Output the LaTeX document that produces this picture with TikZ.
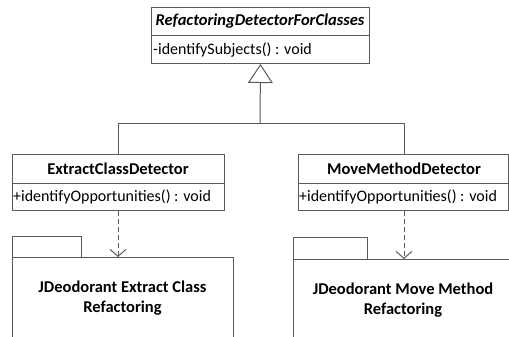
\documentclass[tikz,border=0pt]{standalone}
\usepackage{fontspec}
\setmainfont{Carlito}
\usetikzlibrary{arrows.meta}
\definecolor{ln}{HTML}{5A5A5A}
\begin{document}
\begin{tikzpicture}[x=1pt,y=-1pt,
  every node/.style={font=\fontsize{16}{18}\selectfont, inner sep=0pt},
  box/.style={draw=ln, line width=1pt, fill=white, anchor=north west},
  lin/.style={draw=ln, line width=1pt},
  title/.style={font=\fontsize{16.5}{18}\selectfont\bfseries},
  meth/.style={anchor=west},
  pkgtext/.style={font=\fontsize{16.5}{20}\selectfont\bfseries, align=center},
  dep/.style={lin, dashed, dash pattern=on 5pt off 3pt, -{Straight Barb[length=7pt,width=16pt]}},
  gen/.style={lin, -{Triangle[open, length=19pt, width=25pt, fill=white]}}
]
\useasboundingbox (0,0) rectangle (509,337);
\clip (0,0) rectangle (509,337);
% top class
\node[box, minimum width=218pt, minimum height=56pt] (top) at (151,7) {};
\draw[lin] (151,36) -- (369,36);
\node[font=\fontsize{16.5}{18}\selectfont\bfseries\itshape] (toptitle) at (260,21.5) {RefactoringDetectorForClasses};
\node[meth] (topm) at (153,50) {-identifySubjects() : void};
% left class
\node[box, minimum width=212pt, minimum height=56pt] (ecd) at (12,154) {};
\draw[lin] (12,183) -- (224,183);
\node[title] (ecdt) at (118,168.5) {ExtractClassDetector};
\node[meth] (ecdm) at (13,197) {+identifyOpportunities() : void};
% right class
\node[box, minimum width=210pt, minimum height=56pt] (mmd) at (298,154) {};
\draw[lin] (298,183) -- (508,183);
\node[title] (mmdt) at (404,168.5) {MoveMethodDetector};
\node[meth] (mmdm) at (299,197) {+identifyOpportunities() : void};
% packages
\node[box, minimum width=69pt, minimum height=21pt] (ptabl) at (12,236) {};
\node[box, minimum width=221pt, minimum height=100pt] (pkgl) at (12,257) {};
\node[pkgtext] (pkglt) at (122.5,298) {JDeodorant Extract Class\\Refactoring};
\node[box, minimum width=74pt, minimum height=22pt] (ptabr) at (293,237) {};
\node[box, minimum width=230pt, minimum height=100pt] (pkgr) at (293,259) {};
\node[pkgtext] (pkgrt) at (403,300) {JDeodorant Move Method\\Refactoring};
% generalization
\coordinate (j) at (260,123);
\draw[lin] (ecd.north -| 118,0) -- (118,123) -- (404,123) -- (404,154);
\draw[gen] (j) -- (top.south);
% dependencies
\draw[dep] (ecd.south -| 118,0) -- (pkgl.north -| 118,0);
\draw[dep] (mmd.south -| 404,0) -- (pkgr.north -| 404,0);
\end{tikzpicture}
\end{document}
